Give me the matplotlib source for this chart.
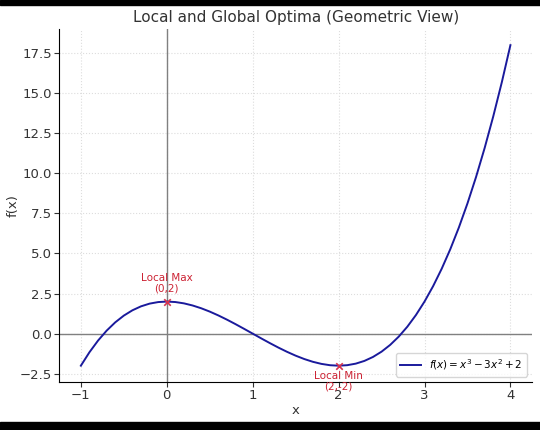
import matplotlib
matplotlib.use("Agg")
import matplotlib.pyplot as plt
from matplotlib.patches import Rectangle

# x samples and f(x) values
x_vals = [-1.0, -0.9, -0.8, -0.7, -0.6, -0.5, -0.4, -0.3, -0.2, -0.1,
          0.0, 0.1, 0.2, 0.3, 0.4, 0.5, 0.6, 0.7, 0.8, 0.9,
          1.0, 1.1, 1.2, 1.3, 1.4, 1.5, 1.6, 1.7, 1.8, 1.9,
          2.0, 2.1, 2.2, 2.3, 2.4, 2.5, 2.6, 2.7, 2.8, 2.9,
          3.0, 3.1, 3.2, 3.3, 3.4, 3.5, 3.6, 3.7, 3.8, 3.9, 4.0]
y_vals = [-2.0, -1.159, -0.432, 0.187, 0.704, 1.125, 1.456, 1.703, 1.872, 1.969,
          2.0, 1.971, 1.888, 1.757, 1.584, 1.375, 1.136, 0.873, 0.592, 0.299,
          0.0, -0.299, -0.592, -0.873, -1.136, -1.375, -1.584, -1.757, -1.888, -1.971,
          -2.0, -1.969, -1.872, -1.703, -1.456, -1.125, -0.704, -0.187, 0.432, 1.159,
          2.0, 2.961, 4.048, 5.267, 6.624, 8.125, 9.776, 11.583, 13.552, 15.689, 18.0]

opt_x = [0, 2]
opt_y = [2, -2]
opt_labels = ["Local Max\n(0,2)", "Local Min\n(2,-2)"]
opt_offsets = [13, -11]

fig = plt.figure(figsize=(5.4, 4.3), dpi=100)
ax = fig.add_axes([0.110, 0.1123, 0.875, 0.820])

ax.grid(True, color="#dddddd", linestyle=":", linewidth=0.8, zorder=0)
ax.set_axisbelow(True)
ax.axhline(0, color="gray", linewidth=1.0, zorder=2)
ax.axvline(0, color="gray", linewidth=1.0, zorder=2)

ax.plot(x_vals, y_vals, color="#1a1a9c", linewidth=1.4,
        label=r"$f(x) = x^3 - 3x^2 + 2$", zorder=3)
ax.scatter(opt_x, opt_y, color="#d6334f", marker="x", s=22, linewidths=1.2, zorder=4)
for xx, yy, lab, off in zip(opt_x, opt_y, opt_labels, opt_offsets):
    ax.annotate(lab, (xx, yy), textcoords="offset points", xytext=(0, off),
                ha="center", va="center", color="#cc2233", fontsize=7.5, zorder=5,
                linespacing=1.1)

ax.set_title("Local and Global Optima (Geometric View)", fontsize=11, color="#333333", pad=5)
ax.set_xlabel("x", fontsize=9.5, color="#333333", labelpad=1)
ax.set_ylabel("f(x)", fontsize=9.5, color="#333333")
ax.yaxis.set_label_coords(-0.085, 0.5)
ax.tick_params(labelsize=9.5, colors="#333333", pad=2)
ax.spines["top"].set_visible(False)
ax.spines["right"].set_visible(False)
ax.set_yticks([-2.5, 0, 2.5, 5, 7.5, 10, 12.5, 15, 17.5])
ax.legend(loc="lower right", fontsize=7.5, frameon=True)

# black bands at top and bottom of the image
fig.patches.append(Rectangle((0, 1 - 5 / 430), 1, 5 / 430, transform=fig.transFigure,
                             color="black", zorder=10))
fig.patches.append(Rectangle((0, 0), 1, 8 / 430, transform=fig.transFigure,
                             color="black", zorder=10))

fig.savefig("out.png", dpi=100)
